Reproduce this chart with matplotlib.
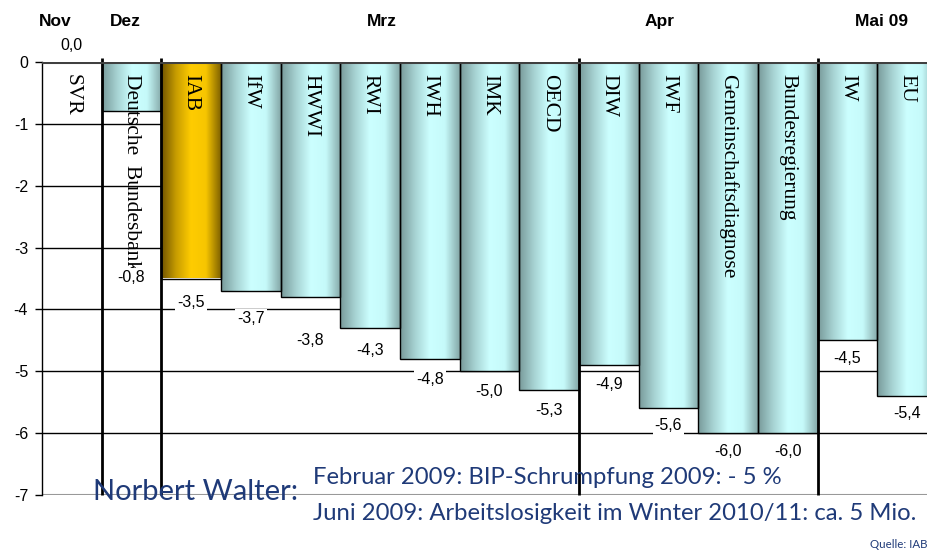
import numpy as np
import matplotlib.pyplot as plt
from matplotlib.colors import LinearSegmentedColormap

# Prognosen BIP 2009 (in %), ordered by date of forecast
institutes = ['SVR', 'Deutsche  Bundesbank', 'IAB', 'IfW', 'HWWI', 'RWI', 'IWH', 'IMK',
              'OECD', 'DIW', 'IWF', 'Gemeinschaftsdiagnose', 'Bundesregierung', 'IW', 'EU']
forecast = [0.0, -0.8, -3.5, -3.7, -3.8, -4.3, -4.8, -5.0, -5.3, -4.9, -5.6, -6.0, -6.0, -4.5, -5.4]
highlight = 'IAB'

months = ['Nov', 'Dez', 'Mrz', 'Apr', 'Mai 09']
month_x = [0.22, 1.4, 5.7, 10.35, 14.07]
month_breaks = [1, 2, 9, 13]

# where each value label sits relative to its bar end
label_offset = [0.27, -2.68, -0.38, -0.44, -0.71, -0.36, -0.34, -0.32, -0.33,
                -0.31, -0.28, -0.30, -0.30, -0.30, -0.29]

cyan = LinearSegmentedColormap.from_list(
    'cyan', ['#789a9a', '#a6d2d2', '#ccffff', '#c6fafa', '#84a7a7'], N=256)
gold = LinearSegmentedColormap.from_list(
    'gold', ['#6e5200', '#c79c00', '#ffcc00', '#f7c600', '#806200'], N=256)
grad = np.linspace(0, 1, 256).reshape(1, -1)

fig = plt.figure(figsize=(9.28, 5.51), dpi=100)
W, H = 928, 551
ax = fig.add_axes([42 / W, (H - 495) / H, (937 - 42) / W, (495 - 62) / H])

x = np.arange(len(forecast))

# gridlines
for g in range(-6, 0):
    ax.axhline(g, color='black', lw=1, zorder=0.5)
ax.axhline(-7, color='#999999', lw=1.5, zorder=0.5)

# gradient filled bars
for i, (name, v) in enumerate(zip(institutes, forecast)):
    if v == 0:
        continue
    cmap = gold if name == highlight else cyan
    ax.imshow(grad, cmap=cmap, extent=(i, i + 1, v, 0), aspect='auto',
              interpolation='bicubic', zorder=1)
ax.bar(x, forecast, width=1, align='edge', fill=False, edgecolor='black', lw=1, zorder=2)

# month separators
ax.vlines(month_breaks, -7, 0.06, colors='black', lw=2, zorder=3, clip_on=False)
ax.axhline(0, color='#404040', lw=2.2, zorder=3)

# category names
for i, name in enumerate(institutes):
    ax.text(i + 0.5, -0.2, name, rotation=270, ha='center', va='top',
            family='Liberation Serif', fontsize=15.5, zorder=4)

# value labels
for i, (v, off) in enumerate(zip(forecast, label_offset)):
    ax.text(i + 0.5, v + off, f'{v:.1f}'.replace('.', ','), ha='center', va='center',
            family='Liberation Sans', fontsize=11.5, zorder=5, clip_on=False,
            bbox=dict(facecolor='white', edgecolor='none', pad=1.5))

# month headings
for m, mx in zip(months, month_x):
    ax.text(mx, 0.65, m, ha='center', va='center', family='Liberation Sans',
            fontweight='bold', fontsize=12.5, clip_on=False)

ax.set_xlim(0, 15)
ax.set_ylim(-7, 0)
ax.set_xticks([])
ax.set_yticks(range(-7, 1))
ax.set_yticklabels([str(t) for t in range(-7, 1)], family='Liberation Sans', fontsize=11.5)
ax.tick_params(axis='y', length=5, width=1, pad=5)
for s in ['top', 'right', 'bottom']:
    ax.spines[s].set_visible(False)
ax.spines['left'].set_linewidth(1)

navy = '#1f3a78'
fig.text(93 / W, 1 - 492 / H, 'Norbert Walter:', family='Lato', fontsize=21,
         color=navy, va='center', ha='left')
fig.text(313 / W, 1 - 478 / H, 'Februar 2009: BIP-Schrumpfung 2009: - 5 %', family='Lato',
         fontsize=17.2, color=navy, va='center', ha='left')
fig.text(313 / W, 1 - 513 / H, 'Juni 2009: Arbeitslosigkeit im Winter 2010/11: ca. 5 Mio.',
         family='Lato', fontsize=17.2, color=navy, va='center', ha='left')
fig.text(1.0, 1 - 544 / H, 'Quelle: IAB', family='Lato', fontsize=8.3, color=navy,
         va='center', ha='right')

fig.savefig('out.png', dpi=100)
